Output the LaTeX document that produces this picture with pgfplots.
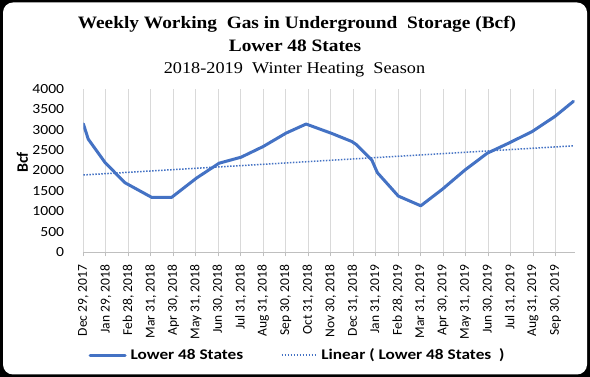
\documentclass[border=0pt]{standalone}
\usepackage{pgfplots}
\pgfplotsset{compat=1.18}
\usepackage{fontspec}
\setmainfont{Carlito}[FakeStretch=1.12]
\newfontfamily\titlefont{Liberation Serif}[FakeStretch=1.11]
\newfontfamily\plainfont{Carlito}
\newfontfamily\legfont{Carlito}[FakeStretch=1.17]
\definecolor{serblue}{RGB}{68,114,196}
\definecolor{gridgray}{RGB}{217,217,217}
\definecolor{axgray}{RGB}{191,191,191}
\begin{document}
\begin{tikzpicture}
\fill[black] (0bp,0bp) rectangle (590bp,377bp);
\fill[white,rounded corners=10bp] (3bp,2.5bp) rectangle (587bp,374.5bp);
\node[font=\titlefont\bfseries\fontsize{17.5}{20}\selectfont, anchor=base] at (297bp,348.7bp) {Weekly Working~~Gas in Underground~~Storage (Bcf)};
\node[font=\titlefont\bfseries\fontsize{17.5}{20}\selectfont, anchor=base] at (295bp,325.3bp) {Lower 48 States};
\node[font=\titlefont\fontsize{16.5}{19}\selectfont, anchor=base] at (294.5bp,303.7bp) {2018-2019~~Winter Heating~~Season};
\begin{axis}[
  at={(83.3bp,125bp)}, anchor=south west,
  scale only axis, width=491.7bp, height=163bp,
  xmin=0, xmax=21.87, ymin=0, ymax=4000,
  axis x line*=bottom, axis y line*=left,
  x axis line style={draw=axgray, line width=0.75bp, -},
  y axis line style={draw=none},
  xtick={0,1,...,21},
  xticklabels={{Dec 29, 2017},{Jan 29, 2018},{Feb 28, 2018},{Mar 31, 2018},{Apr 30, 2018},{May 31, 2018},{Jun 30, 2018},{Jul 31, 2018},{Aug 31, 2018},{Sep 30, 2018},{Oct 31, 2018},{Nov 30, 2018},{Dec 31, 2018},{Jan 31, 2019},{Feb 28, 2019},{Mar 31, 2019},{Apr 30, 2019},{May 31, 2019},{Jun 30, 2019},{Jul 31, 2019},{Aug 31, 2019},{Sep 30, 2019}},
  ytick={0,500,...,4000},
  scaled ticks=false,
  /pgf/number format/1000 sep={},
  /pgf/number format/assume math mode=true,
  tick align=outside,
  major tick length=4bp,
  xtick style={draw=axgray, line width=0.75bp},
  ytick style={draw=none},
  xmajorgrids, major grid style={draw=gridgray, line width=0.75bp},
  xticklabel style={font=\plainfont\fontsize{13.6}{15}\selectfont, yshift=-8.5bp, rotate=90, anchor=east, inner sep=0pt},
  yticklabel style={font=\fontsize{14}{16}\selectfont, inner sep=0pt, xshift=-15bp, anchor=east},
  ylabel={Bcf},
  ylabel style={font=\plainfont\bfseries\fontsize{16}{18}\selectfont, at={(axis description cs:-0.1237,0.549)}, anchor=center},
  legend columns=2,
  legend style={at={(axis description cs:0.0102,-0.632)}, anchor=west, draw=none, fill=none, inner sep=0pt,
    font=\legfont\bfseries\fontsize{14.8}{16}\selectfont,
    nodes={inner xsep=4bp, inner ysep=0pt},
    /tikz/every even column/.append style={column sep=33.5bp}},
  legend image code/.code={\draw[#1] (0bp,0bp) -- (35bp,0bp);},
]
\addplot[serblue, line width=3bp, line join=round, line cap=round] coordinates {
(0,3148) (0.22,2770) (0.97,2194) (1.85,1701) (3.04,1341) (3.93,1341) (5.04,1816) (6.04,2179) (7.02,2327) (8.0,2588) (9.02,2918) (9.91,3140) (11.05,2910) (11.94,2712) (12.16,2630) (12.83,2260) (13.08,1947) (14.01,1373) (15.01,1134) (15.97,1540) (16.98,2014) (17.97,2425) (18.98,2687) (19.97,2958) (20.98,3328) (21.8,3697)
};
\addlegendentry{Lower 48 States}
\addplot[serblue, line width=1.5bp, dash pattern=on 1.5bp off 1.5bp] coordinates {
(0,1890) (21.8,2605)
};
\addlegendentry{Linear ( Lower 48 States~~)}
\end{axis}
\end{tikzpicture}
\end{document}
